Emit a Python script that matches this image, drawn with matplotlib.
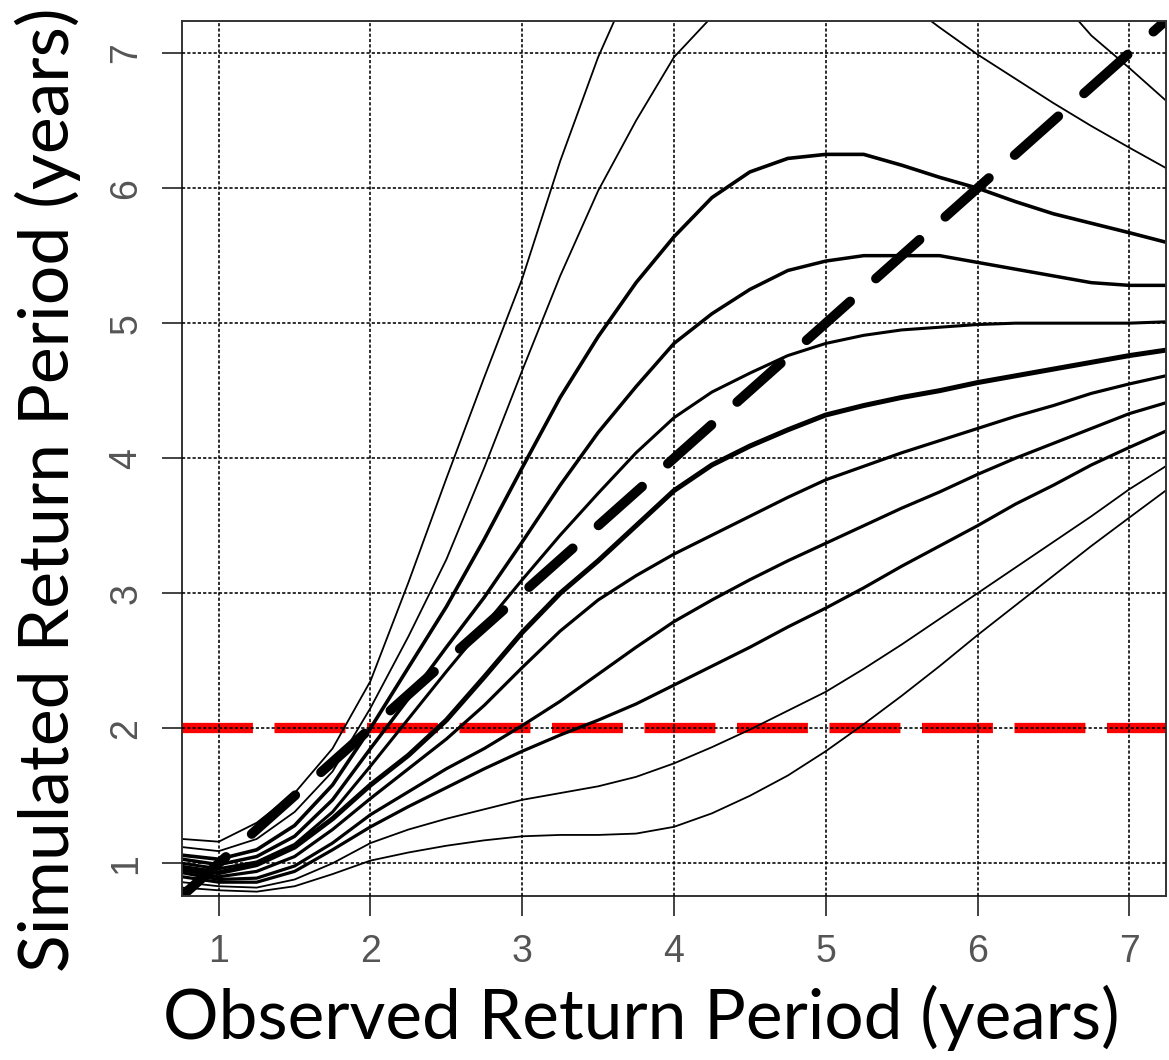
import matplotlib
matplotlib.use("Agg")
import matplotlib.pyplot as plt

# observed return period grid (years)
obs_x = [0.76, 1.0, 1.25, 1.5, 1.75, 2.0, 2.25, 2.5, 2.75, 3.0, 3.25, 3.5, 3.75, 4.0,
         4.25, 4.5, 4.75, 5.0, 5.25, 5.5, 5.75, 6.0, 6.25, 6.5, 6.75, 7.0, 7.24]

# simulated return period curves, top of the band first
sim_a = [1.18, 1.16, 1.30, 1.52, 1.85, 2.35, 3.08, 3.85, 4.60, 5.33, 6.20, 6.97, 7.60, 8.10,
         8.40, 8.60, 8.70, 8.75, 8.70, 8.60, 8.40, 8.10, 7.80, 7.45, 7.13, 6.89, 6.65]
sim_b = [1.12, 1.09, 1.18, 1.38, 1.68, 2.15, 2.68, 3.25, 3.93, 4.65, 5.35, 5.98, 6.50, 6.97,
         7.27, 7.45, 7.55, 7.57, 7.52, 7.40, 7.19, 6.99, 6.81, 6.63, 6.46, 6.30, 6.15]
sim_c = [1.06, 1.03, 1.10, 1.28, 1.58, 2.00, 2.45, 2.90, 3.40, 3.93, 4.45, 4.90, 5.30, 5.64,
         5.93, 6.12, 6.22, 6.25, 6.25, 6.17, 6.08, 6.00, 5.90, 5.81, 5.74, 5.67, 5.60]
sim_d = [1.03, 0.99, 1.05, 1.20, 1.47, 1.85, 2.22, 2.60, 2.97, 3.38, 3.80, 4.19, 4.53, 4.85,
         5.07, 5.25, 5.39, 5.46, 5.50, 5.50, 5.50, 5.45, 5.40, 5.35, 5.30, 5.28, 5.28]
sim_e = [1.00, 0.96, 1.01, 1.14, 1.38, 1.72, 2.07, 2.42, 2.76, 3.10, 3.43, 3.74, 4.04, 4.30,
         4.49, 4.63, 4.76, 4.85, 4.91, 4.95, 4.97, 4.99, 5.00, 5.00, 5.00, 5.00, 5.01]
sim_f = [0.97, 0.93, 0.99, 1.12, 1.33, 1.58, 1.80, 2.06, 2.38, 2.71, 3.00, 3.24, 3.50, 3.76,
         3.95, 4.09, 4.21, 4.32, 4.39, 4.45, 4.50, 4.56, 4.61, 4.66, 4.71, 4.76, 4.80]
sim_g = [0.95, 0.90, 0.94, 1.05, 1.25, 1.48, 1.70, 1.92, 2.17, 2.45, 2.72, 2.95, 3.13, 3.29,
         3.43, 3.57, 3.71, 3.84, 3.94, 4.04, 4.13, 4.22, 4.31, 4.39, 4.48, 4.55, 4.61]
sim_h = [0.93, 0.88, 0.89, 0.98, 1.15, 1.36, 1.53, 1.70, 1.85, 2.02, 2.20, 2.40, 2.60, 2.79,
         2.95, 3.10, 3.24, 3.37, 3.50, 3.63, 3.75, 3.88, 4.00, 4.11, 4.22, 4.33, 4.41]
sim_i = [0.90, 0.86, 0.86, 0.94, 1.10, 1.27, 1.42, 1.56, 1.70, 1.83, 1.95, 2.06, 2.18, 2.32,
         2.46, 2.60, 2.75, 2.89, 3.04, 3.20, 3.35, 3.50, 3.66, 3.80, 3.95, 4.08, 4.20]
sim_j = [0.86, 0.83, 0.82, 0.88, 1.00, 1.15, 1.25, 1.33, 1.40, 1.47, 1.52, 1.57, 1.64, 1.74,
         1.86, 1.99, 2.13, 2.27, 2.44, 2.62, 2.81, 3.00, 3.19, 3.38, 3.57, 3.77, 3.94]
sim_k = [0.82, 0.80, 0.79, 0.83, 0.92, 1.02, 1.08, 1.13, 1.17, 1.20, 1.21, 1.21, 1.22, 1.27,
         1.37, 1.50, 1.65, 1.83, 2.03, 2.24, 2.46, 2.69, 2.91, 3.13, 3.35, 3.56, 3.76]

curves = [sim_a, sim_b, sim_c, sim_d, sim_e, sim_f, sim_g, sim_h, sim_i, sim_j, sim_k]
widths = [1.3, 1.3, 2.6, 2.5, 2.2, 3.6, 2.3, 2.3, 2.3, 1.3, 1.3]

threshold = 2
ticks = [1, 2, 3, 4, 5, 6, 7]

W, H = 1169, 1060
fig = plt.figure(figsize=(W / 100, H / 100), dpi=100)
ax = fig.add_axes([182.3 / W, 1 - 895.7 / H, (1165.7 - 182.3) / W, (895.7 - 20.7) / H])
ax.set_xlim(0.76, 7.24)
ax.set_ylim(0.76, 7.24)

ax.axhline(threshold, color='#ff0000', lw=7.4, dashes=(6.9, 2.1),
           dash_capstyle='butt', zorder=1.8)
for ys, lw in zip(curves, widths):
    ax.plot(obs_x, ys, color='black', lw=lw, zorder=2)
ax.axline((1, 1), slope=1, color='black', lw=7.0, dashes=(6.0, 3.55),
          dash_capstyle='round', zorder=2.2)

ax.set_xticks(ticks)
ax.set_yticks(ticks)
ax.set_axisbelow(False)
ax.grid(True, color='black', lw=1.15, linestyle=(0, (2.0, 1.3)))
ax.tick_params(direction='out', length=14.5, width=1.2, color='#222222',
               labelsize=27, labelcolor='#555555', pad=13)
for lab in ax.get_xticklabels() + ax.get_yticklabels():
    lab.set_family('Liberation Sans')
for lab in ax.get_yticklabels():
    lab.set_rotation(90)
    lab.set_va('center')
for sp in ax.spines.values():
    sp.set_color('#333333')
    sp.set_linewidth(1.4)

xl = fig.text(641.5 / W, 1 - 1018 / H, 'Observed Return Period (years)',
              ha='center', va='center', family='Lato', fontsize=46)
yl = fig.text(48 / W, 1 - 490 / H, 'Simulated Return Period (years)',
              ha='center', va='center', rotation=90, family='Lato', fontsize=46)

# scale the two titles to the widths they take in the reference
fig.canvas.draw()
r = fig.canvas.get_renderer()
xl.set_fontsize(46 * 957 / xl.get_window_extent(r).width)
yl.set_fontsize(46 * 964 / yl.get_window_extent(r).height)

fig.savefig('out.png', dpi=100)
